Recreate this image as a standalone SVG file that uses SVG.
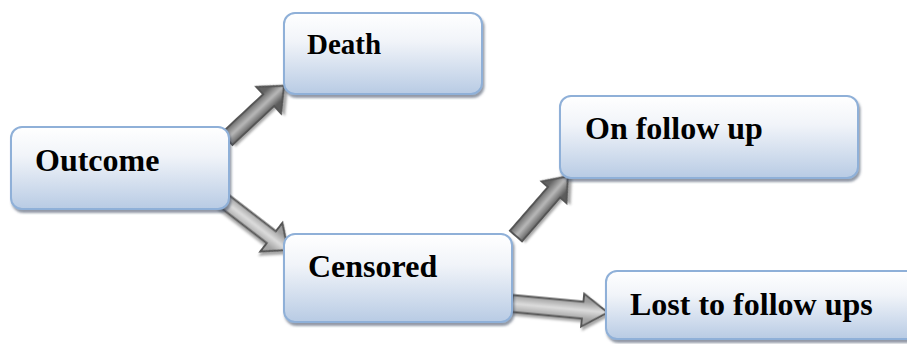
<svg xmlns="http://www.w3.org/2000/svg" width="907" height="344" viewBox="0 0 907 344">
<style>
.box{fill:url(#boxg);stroke:#8fb0d8;stroke-width:2;filter:url(#bsh)}
.lbl{font-family:"Liberation Serif","Times New Roman",serif;font-weight:bold;font-size:32px;fill:#000}
.dark{fill:url(#darkg);stroke:#555555;stroke-width:2;stroke-linejoin:miter;filter:url(#ash)}
.light{fill:url(#lightg);stroke:#555555;stroke-width:2;stroke-linejoin:miter;filter:url(#ash)}
</style>
<defs>
<linearGradient id="boxg" x1="0" y1="0" x2="0" y2="1">
<stop offset="0" stop-color="#ffffff"/>
<stop offset="0.35" stop-color="#f1f4f9"/>
<stop offset="1" stop-color="#b8cbe4"/>
</linearGradient>
<linearGradient id="darkg" gradientUnits="userSpaceOnUse" x1="0" y1="-9" x2="0" y2="9">
<stop offset="0" stop-color="#646464"/>
<stop offset="0.5" stop-color="#b8b8b8"/>
<stop offset="1" stop-color="#5c5c5c"/>
</linearGradient>
<linearGradient id="lightg" gradientUnits="userSpaceOnUse" x1="0" y1="-9" x2="0" y2="9">
<stop offset="0" stop-color="#9c9c9c"/>
<stop offset="0.5" stop-color="#dcdcdc"/>
<stop offset="1" stop-color="#a4a4a4"/>
</linearGradient>
<filter id="bsh" x="-10%" y="-10%" width="125%" height="130%">
<feDropShadow dx="1.5" dy="3" stdDeviation="0.8" flood-color="#3a4a60" flood-opacity="0.55"/>
</filter>
<filter id="ash" x="-20%" y="-40%" width="150%" height="190%">
<feDropShadow dx="2" dy="2.5" stdDeviation="1" flood-color="#000" flood-opacity="0.35"/>
</filter>
</defs>
<g id="connectors">
<path class="dark" transform="translate(227,139) rotate(-43)" d="M0,-8 L57,-8 L57,-18 L78,0 L57,18 L57,8 L0,8 Z"/>
<path class="light" transform="translate(223,200) rotate(37.6)" d="M0,-7.5 L61,-7.5 L61,-18 L82,0 L61,18 L61,7.5 L0,7.5 Z"/>
<path class="dark" transform="translate(516,236) rotate(-49)" d="M0,-8 L58,-8 L58,-16.5 L79,0 L58,16.5 L58,8 L0,8 Z"/>
<path class="light" transform="translate(512,303.5) rotate(5.4)" d="M0,-8.5 L71,-8.5 L71,-16.5 L96,0 L71,16.5 L71,8.5 L0,8.5 Z"/>
</g>
<g id="outcome">
<rect class="box" x="11" y="127" width="218" height="82" rx="11"/>
<text class="lbl" x="35" y="171">Outcome</text>
</g>
<g id="death">
<rect class="box" x="284" y="13" width="198" height="81" rx="11"/>
<text class="lbl" x="307" y="54" style="font-size:29px">Death</text>
</g>
<g id="censored">
<rect class="box" x="284" y="234" width="228" height="88" rx="11"/>
<text class="lbl" x="308" y="277">Censored</text>
</g>
<g id="onfollowup">
<rect class="box" x="560" y="96" width="298" height="82" rx="11"/>
<text class="lbl" x="585" y="139">On follow up</text>
</g>
<g id="lost">
<rect class="box" x="606" y="271" width="320" height="68" rx="11"/>
<text class="lbl" x="630" y="315">Lost to follow ups</text>
</g>
</svg>
